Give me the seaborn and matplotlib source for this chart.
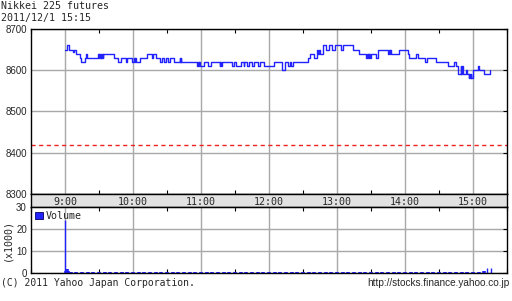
import matplotlib
matplotlib.use("Agg")
import matplotlib.pyplot as plt
from matplotlib.patches import Patch
from matplotlib.ticker import MultipleLocator, FixedLocator
import seaborn as sns
import pandas as pd

# ---------------- data ----------------
title = "Nikkei 225 futures"
timestamp = "2011/12/1 15:15"
prev_close = 8419

# step changes: minutes after 9:00, price
price_minutes = [0, 1.8, 3.5, 6.8, 8.3, 10, 13.2, 14.4, 17.6, 18.5, 19.0, 19.4, 19.8,
                 29.1, 29.6, 30.2, 30.8, 31.4, 32, 32.6, 33.2, 33.8, 43.3, 46.8, 49.2,
                 53.5, 54.5, 59.4, 60.9, 61.5, 62.1, 62.7, 65.9, 72, 76.5, 77.3, 80,
                 83.5, 85.3, 87, 88.8, 90.6, 92.3, 95.9, 101.2, 101.6, 102, 102.4,
                 116.8, 117.4, 118, 118.6, 119.2, 122.3, 125.9, 128.5, 136.5, 137.2,
                 137.8, 138.4, 147, 148.8, 150.6, 155, 157.5, 158, 160.3, 162, 164.7,
                 166.4, 170, 171.7, 175.2, 184, 191.9, 193.8, 196.5, 198.3, 199.2,
                 201.2, 214.4, 216.1, 219.6, 222, 222.6, 223.3, 224, 224.7, 227.6,
                 230.5, 232.9, 235.8, 238.2, 243.2, 245.5, 253.7, 259, 266, 266.5,
                 267, 267.5, 268, 268.5, 269, 269.6, 274.1, 275.9, 284.7, 285.5,
                 286.5, 287.2, 288, 294.4, 302.3, 303.2, 309.4, 311.2, 317.3, 319.1,
                 327, 337.6, 342.9, 344.7, 346.4, 349, 349.5, 350, 350.8, 353.4,
                 354.3, 356.1, 356.6, 357.2, 357.8, 358.4, 359.6, 364, 364.9, 369.3,
                 374.6]
prices = [8650, 8660, 8650, 8645, 8650, 8640, 8630, 8620, 8630, 8640, 8630, 8640, 8630,
          8640, 8630, 8640, 8630, 8640, 8630, 8640, 8630, 8640, 8630, 8620, 8630,
          8620, 8630, 8620, 8630, 8620, 8630, 8620, 8630, 8640, 8630, 8640, 8630,
          8620, 8630, 8620, 8630, 8620, 8630, 8620, 8630, 8620, 8630, 8620,
          8610, 8620, 8610, 8620, 8610, 8620, 8610, 8620, 8610, 8620,
          8610, 8620, 8610, 8620, 8610, 8620, 8610, 8620, 8610, 8620, 8610,
          8620, 8610, 8620, 8610, 8620, 8600, 8620, 8610, 8620, 8610,
          8620, 8630, 8640, 8630, 8640, 8650, 8640, 8650, 8640, 8660,
          8650, 8660, 8650, 8660, 8650, 8660, 8650, 8640, 8630, 8640,
          8630, 8640, 8630, 8640, 8630, 8640, 8630, 8650, 8640, 8650,
          8640, 8650, 8640, 8650, 8640, 8630, 8640, 8630, 8620, 8630,
          8620, 8610, 8620, 8610, 8590, 8610, 8590, 8610, 8590, 8600,
          8590, 8580, 8590, 8580, 8590, 8580, 8600, 8610, 8600, 8590,
          8600]

# volume (thousands), minutes after 9:00
vol_minutes = [0, 1, 2, 3, 5, 10, 15, 20, 25, 30, 35, 40, 45, 50, 55, 60, 65, 70, 75,
               80, 85, 90, 95, 100, 105, 110, 115, 120, 125, 130, 135, 140, 145, 150,
               155, 160, 165, 170, 175, 180, 185, 190, 195, 200, 205, 210, 215, 220,
               225, 230, 235, 240, 245, 250, 255, 260, 265, 270, 275, 280, 285, 290,
               295, 300, 305, 310, 315, 320, 325, 330, 335, 340, 345, 350, 355, 360,
               365, 370, 372, 376]
volumes = [24, 1.2, 1.8, 1.0, 0.8, 0.6, 0.6, 0.5, 0.6, 0.5, 0.6, 0.5, 0.5, 0.6, 0.5,
           0.5, 0.5, 0.6, 0.5, 0.5, 0.5, 0.5, 0.6, 0.5, 0.5, 0.4, 0.5, 0.5, 0.5,
           0.5, 0.4, 0.5, 0.5, 0.4, 0.5, 0.5, 0.4, 0.5, 0.4, 0.5, 0.5, 0.5, 0.6,
           0.5, 0.5, 0.6, 0.6, 0.6, 0.6, 0.5, 0.5, 0.5, 0.5, 0.5, 0.5, 0.5, 0.5,
           0.6, 0.5, 0.5, 0.5, 0.5, 0.5, 0.5, 0.5, 0.6, 0.5, 0.5, 0.5, 0.5, 0.5,
           0.6, 0.6, 0.8, 0.7, 0.7, 0.8, 1.2, 2.4, 2.4]

hour_labels = ["9:00", "10:00", "11:00", "12:00", "13:00", "14:00", "15:00"]
hour_values = [9, 10, 11, 12, 13, 14, 15]
price_ticks = [8300, 8400, 8500, 8600, 8700]
vol_ticks = [0, 10, 20, 30]

# ---------------- style ----------------
sns.set_style("white")
plt.rcParams["font.family"] = ["Liberation Sans", "DejaVu Sans"]
MONO = "DejaVu Sans Mono"
BLUE = "#2222ff"
GRID = "#a8a8a8"

W, H = 512, 301
fig = plt.figure(figsize=(W / 100, H / 100), dpi=100)

def rect(l, t, r, b):
    return [l / W, (H - b) / H, (r - l) / W, (b - t) / H]

ax = fig.add_axes(rect(31, 29, 507, 194))
band = fig.add_axes(rect(31, 194, 507, 207))
axv = fig.add_axes(rect(31, 207, 507, 273.3))

df = pd.DataFrame({"hour": [9 + m / 60 for m in price_minutes], "price": prices})
sns.lineplot(data=df, x="hour", y="price", ax=ax, color=BLUE, lw=1.0,
             drawstyle="steps-post", estimator=None, sort=False)
ax.axhline(prev_close, color="#ee2222", lw=1.0, ls=(0, (3, 2.5)))

for a in (ax, axv):
    a.set_xlim(8.5, 15.5)
    a.xaxis.set_major_locator(FixedLocator(hour_values))
    a.xaxis.set_minor_locator(MultipleLocator(0.5))
    a.grid(True, which="major", color=GRID, lw=1.0)
    a.set_axisbelow(True)
    a.tick_params(axis="both", which="both", direction="in", length=3, width=0.8,
                  top=True, right=True, bottom=True, left=False, labelbottom=False,
                  labelsize=7.0, pad=3, color="black")
    a.tick_params(axis="x", which="major", length=0)
    a.set_xlabel("")
    a.set_ylabel("")
    for s in a.spines.values():
        s.set_color("black")
        s.set_linewidth(1.0)

ax.set_ylim(8300, 8700)
ax.set_yticks(price_ticks)
ax.set_yticklabels([str(v) for v in price_ticks])

# time band
band.set_xlim(8.5, 15.5)
band.set_ylim(0, 1)
band.set_facecolor("#e2e2e2")
band.set_xticks([])
band.set_yticks([])
for s in band.spines.values():
    s.set_color("black")
    s.set_linewidth(1.0)
for h, lab in zip(hour_values, hour_labels):
    band.text(h, 0.42, lab, ha="center", va="center", fontsize=7.2, family=MONO)

# volume: spikes drawn thin, the small steady trades as short dashes
vol_hours = [9 + m / 60 for m in vol_minutes]
big = [i for i, v in enumerate(volumes) if v >= 2]
small = [i for i, v in enumerate(volumes) if v < 2]
axv.vlines([vol_hours[i] for i in big], 0, [volumes[i] for i in big], color=BLUE, lw=1.0)
axv.vlines([vol_hours[i] for i in small], 0, [volumes[i] for i in small], color=BLUE, lw=2.6)
axv.set_ylim(0, 30)
axv.set_yticks(vol_ticks)
axv.set_yticklabels([str(v) for v in vol_ticks])
axv.legend(handles=[Patch(facecolor=BLUE, edgecolor="#000066", lw=0.6)],
           labels=["Volume"], loc="upper left", frameon=False,
           handlelength=0.75, handleheight=0.75, handletextpad=0.3,
           borderaxespad=0.2, borderpad=0.2,
           prop={"family": MONO, "size": 7.2})

# texts
fig.text(1 / W, 1 - 6 / H, title, ha="left", va="center", fontsize=7.2, family=MONO)
fig.text(1 / W, 1 - 18 / H, timestamp, ha="left", va="center", fontsize=7.2, family=MONO)
fig.text(1 / W, 1 - 283 / H, "(C) 2011 Yahoo Japan Corporation.", ha="left",
         va="center", fontsize=7.0, family=MONO)
fig.text(509 / W, 1 - 283 / H, "http://stocks.finance.yahoo.co.jp", ha="right",
         va="center", fontsize=7.2)
fig.text(7 / W, 1 - 240 / H, "(x1000)", ha="center", va="center", rotation=90,
         fontsize=7.2, family=MONO)

fig.savefig("out.png", dpi=100)
